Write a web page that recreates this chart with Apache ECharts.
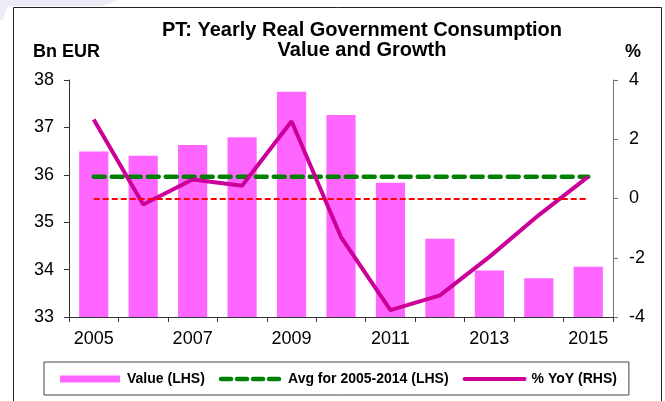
<!DOCTYPE html>
<html>
<head>
<meta charset="utf-8">
<script src="https://cdn.jsdelivr.net/npm/echarts@6/dist/echarts.min.js"></script>
<style>
  html, body { margin: 0; padding: 0; background: #fff; }
  #chart { width: 665px; height: 401px; }
</style>
</head>
<body>
<div id="chart"></div>
<script>
// data
const years = ['2005', '2006', '2007', '2008', '2009', '2010', '2011', '2012', '2013', '2014', '2015'];
const valueBn = [36.49, 36.40, 36.63, 36.79, 37.75, 37.26, 35.83, 34.65, 33.98, 33.82, 34.06];
const yoyPct = [2.67, -0.20, 0.64, 0.43, 2.61, -1.30, -3.77, -3.27, -1.97, -0.56, 0.74];
const avgLine = [35.96, 35.96, 35.96, 35.96, 35.96, 35.96, 35.96, 35.96, 35.96, 35.96, 35.96];
const leftTicks = [33, 38, 1];   // min, max, step
const rightTicks = [-4, 4, 2];

const FONT = "'Liberation Sans', Arial, sans-serif";
const chart = echarts.init(document.getElementById('chart'), null, { renderer: 'canvas' });

const option = {
  animation: false,
  backgroundColor: '#fff',
  textStyle: { fontFamily: FONT },
  graphic: [
    // faint watermark in the corner
    { type: 'polygon', silent: true, z: -1,
      shape: { points: [[0, 0], [118, 0], [104, 6], [8, 6], [3, 20], [0, 20]] },
      style: { fill: '#ecebf6' } },
    // outer frame
    { type: 'rect', silent: true,
      shape: { x: 13.5, y: 7.5, width: 648, height: 400 },
      style: { fill: 'none', stroke: '#222', lineWidth: 1 } }
  ],
  title: [
    { text: 'PT: Yearly Real Government Consumption\nValue and Growth',
      left: 362, top: 20, textAlign: 'center', padding: 0,
      textStyle: { fontFamily: FONT, fontSize: 20, fontWeight: 'bold', color: '#000', lineHeight: 20 } },
    { text: 'Bn EUR', left: 33, top: 43, padding: 0,
      textStyle: { fontFamily: FONT, fontSize: 18, fontWeight: 'bold', color: '#000' } },
    { text: '%', left: 625, top: 43, padding: 0,
      textStyle: { fontFamily: FONT, fontSize: 18, fontWeight: 'bold', color: '#000' } }
  ],
  grid: { left: 69, right: 52, top: 80, bottom: 84, containLabel: false },
  legend: {
    left: 44, top: 362, width: 588,
    padding: [10, 12, 9, 16],
    itemGap: 14, itemWidth: 60, itemHeight: 7,
    borderColor: '#444', borderWidth: 1,
    selectedMode: false,
    textStyle: { fontFamily: FONT, fontSize: 14, fontWeight: 'bold', color: '#000', padding: [0, 0, 0, 2] },
    data: [
      { name: 'Value (LHS)', icon: 'rect' },
      { name: 'Avg for 2005-2014 (LHS)', itemStyle: { opacity: 0 },
        lineStyle: { width: 4.5, type: [10, 6], cap: 'round' } },
      { name: '% YoY (RHS)', itemStyle: { opacity: 0 },
        lineStyle: { width: 4, cap: 'round' } }
    ]
  },
  xAxis: {
    type: 'category',
    data: years,
    boundaryGap: true,
    axisLine: { onZero: false, lineStyle: { color: '#333', width: 1 } },
    axisTick: { show: true, interval: 0, length: 5, lineStyle: { color: '#333' } },
    axisLabel: { interval: 1, margin: 13, fontFamily: FONT, fontSize: 18, color: '#000' },
    splitLine: { show: false }
  },
  yAxis: [
    { type: 'value', position: 'left',
      min: leftTicks[0], max: leftTicks[1], interval: leftTicks[2],
      axisLine: { show: true, lineStyle: { color: '#333' } },
      axisTick: { show: true, length: 5, lineStyle: { color: '#333' } },
      axisLabel: { margin: 15, fontFamily: FONT, fontSize: 18, color: '#000' },
      splitLine: { show: false } },
    { type: 'value', position: 'right',
      min: rightTicks[0], max: rightTicks[1], interval: rightTicks[2],
      axisLine: { show: true, lineStyle: { color: '#777' } },
      axisTick: { show: true, length: 5, lineStyle: { color: '#777' } },
      axisLabel: { margin: 16, fontFamily: FONT, fontSize: 18, color: '#000' },
      splitLine: { show: false } }
  ],
  series: [
    { name: 'Value (LHS)', type: 'bar', yAxisIndex: 0,
      data: valueBn, barCategoryGap: '41%',
      itemStyle: { color: '#ff66ff' } },
    { name: 'Avg for 2005-2014 (LHS)', type: 'line', yAxisIndex: 0,
      data: avgLine, symbol: 'none', z: 3,
      lineStyle: { color: '#008000', width: 4.5, type: [11, 7], cap: 'round' } },
    { name: '% YoY (RHS)', type: 'line', yAxisIndex: 1,
      data: yoyPct, symbol: 'none', z: 4,
      lineStyle: { color: '#cc0099', width: 4 },
      markLine: {
        silent: true, symbol: ['none', 'none'], label: { show: false },
        lineStyle: { color: '#ff0000', width: 2, type: [6, 3] },
        data: [[{ coord: [years[0], 0] }, { coord: [years[years.length - 1], 0] }]]
      } }
  ]
};

chart.setOption(option);
</script>
</body>
</html>
